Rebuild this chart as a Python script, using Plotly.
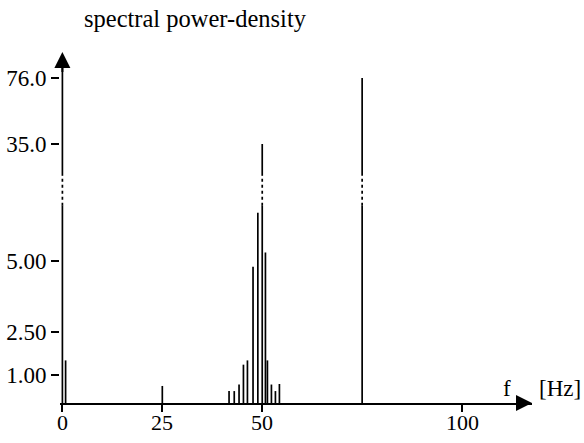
import numpy as np
import plotly.graph_objects as go

# ---- data ----
freq_hz = [0.8, 25.0, 41.7, 43.0, 44.2, 45.3, 46.3, 47.7, 48.9, 50.0, 50.8, 51.3, 52.3, 53.3, 54.3, 75.0]
power = [1.5, 0.6, 0.42, 0.42, 0.65, 1.35, 1.5, 4.8, 6.7, 35.0, 5.3, 1.5, 0.65, 0.42, 0.67, 76.0]
y_tick_values = [1.0, 2.5, 5.0, 35.0, 76.0]
y_tick_labels = ["1.00", "2.50", "5.00", "35.0", "76.0"]
x_tick_values = [0, 25, 50, 100]
x_tick_labels = ["0", "25", "50", "100"]

# ---- broken (piecewise) value axis ----
BREAK_LO, BREAK_HI = 6.95, 15.2          # values hidden inside the break
_src = [0.0, BREAK_LO, BREAK_HI, 35.0, 76.0, 200.0]
_dst = [0.0, BREAK_LO, 8.0, 9.12, 11.44, 11.44 + 124 * 0.0566]


def to_axis(v):
    return float(np.interp(v, _src, _dst))


D_LO, D_HI = to_axis(BREAK_LO), to_axis(BREAK_HI)

solid_x, solid_y, dot_x, dot_y = [], [], [], []
for f, v in zip(freq_hz, power):
    d = to_axis(v)
    if v <= BREAK_LO:
        solid_x += [f, f, None]
        solid_y += [0, d, None]
    else:
        solid_x += [f, f, None, f, f, None]
        solid_y += [0, D_LO, None, D_HI, d, None]
        dot_x += [f, f, None]
        dot_y += [D_LO, D_HI, None]

Y_TOP = 12.43
AX_TOP = 12.2
# y axis line (drawn with the same break)
solid_x += [0, 0, None, 0, 0, None]
solid_y += [0, D_LO, None, D_HI, AX_TOP, None]
dot_x += [0, 0, None]
dot_y += [D_LO, D_HI, None]

fig = go.Figure()
fig.add_trace(go.Scatter(x=solid_x, y=solid_y, mode="lines",
                         line=dict(color="black", width=1.7), hoverinfo="skip"))
fig.add_trace(go.Scatter(x=dot_x, y=dot_y, mode="lines",
                         line=dict(color="black", width=1.7, dash="dot"), hoverinfo="skip"))

FONT = "Liberation Serif"
X_END = 117.5
PLOT_H = 353.0

annotations = [
    dict(x=X_END, y=0, ax=X_END - 4, ay=0, xref="x", yref="y", axref="x", ayref="y",
         showarrow=True, arrowhead=2, arrowsize=1.6, arrowwidth=2, arrowcolor="black", text=""),
    dict(x=0, y=12.36, ax=0, ay=11.6, xref="x", yref="y", axref="x", ayref="y",
         showarrow=True, arrowhead=2, arrowsize=1.6, arrowwidth=2, arrowcolor="black", text=""),
    dict(x=0.047, y=1.09, xref="paper", yref="paper", xanchor="left", yanchor="middle",
         text="spectral power-density", showarrow=False, font=dict(family=FONT, size=24.5)),
    dict(x=0.947, y=0.042, xref="paper", yref="paper", xanchor="center", yanchor="middle",
         text="f", showarrow=False, font=dict(family=FONT, size=23)),
    dict(x=1.0106, y=0.042, xref="paper", yref="paper", xanchor="left", yanchor="middle",
         text="[Hz]", showarrow=False, font=dict(family=FONT, size=23)),
]
for tv, tt in zip(x_tick_values, x_tick_labels):
    annotations.append(dict(x=tv, y=-19 / PLOT_H, xref="x", yref="paper",
                            xanchor="center", yanchor="middle", text=tt, showarrow=False,
                            font=dict(family=FONT, size=22)))

fig.update_layout(
    width=584, height=443,
    margin=dict(l=59.6, r=52, t=50, b=40, autoexpand=False),
    paper_bgcolor="white", plot_bgcolor="white",
    showlegend=False,
    font=dict(family=FONT, size=22, color="black"),
    xaxis=dict(range=[-0.6, X_END], showgrid=False, zeroline=False,
               showline=True, linecolor="black", linewidth=2,
               tickmode="array", tickvals=x_tick_values, showticklabels=False,
               ticks="outside", ticklen=7, tickwidth=1.5, tickcolor="black"),
    yaxis=dict(range=[0, Y_TOP], showgrid=False, zeroline=False, showline=False,
               tickmode="array", tickvals=[to_axis(v) for v in y_tick_values],
               ticktext=y_tick_labels,
               ticks="outside", ticklen=8, tickwidth=1.5, tickcolor="black",
               tickfont=dict(family=FONT, size=23)),
    annotations=annotations,
)

fig.write_html("out.html", post_script="document.body.style.margin='0px';",
               config={"displayModeBar": False})
